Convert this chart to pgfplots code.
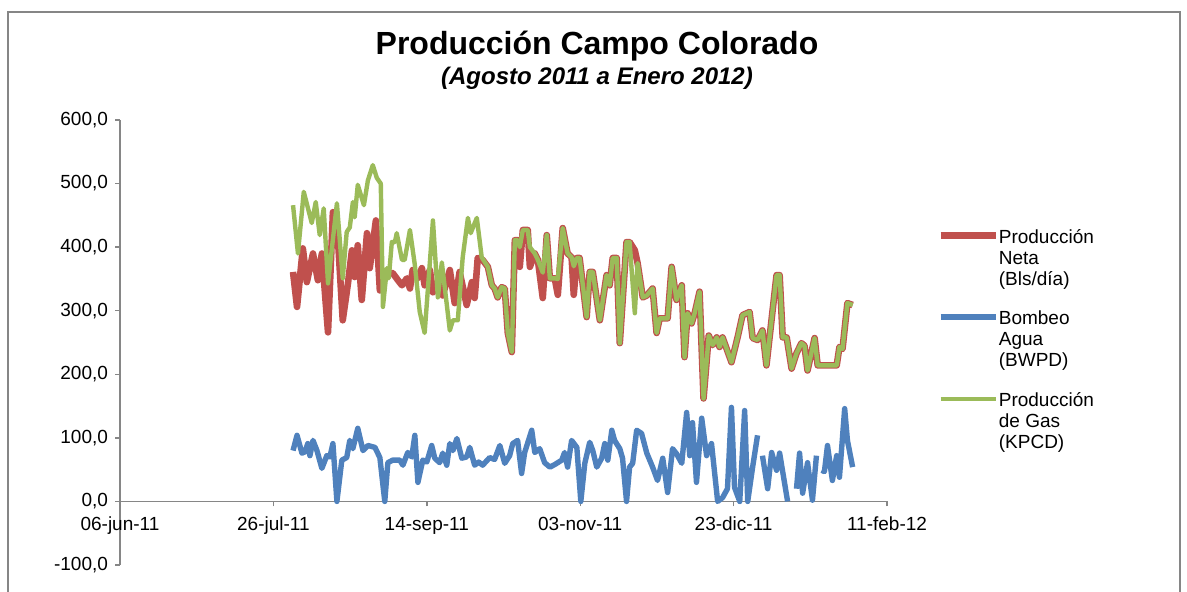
\documentclass[border=0pt]{standalone}
\usepackage{fontspec}
\setmainfont{Liberation Sans}
\usepackage{pgfplots}
\pgfplotsset{compat=1.18}

\definecolor{rojo}{HTML}{C0504D}
\definecolor{azul}{HTML}{4F81BD}
\definecolor{verde}{HTML}{9BBB59}
\definecolor{ejes}{HTML}{868686}

% x = dias desde 06-jun-11
\begin{document}
\begin{tikzpicture}[x=1pt,y=1pt]
\useasboundingbox (0,0) rectangle (593.5,295.5);
\draw[ejes, line width=0.6pt] (4,-5) -- (4,289.5) -- (590,289.5) -- (590,-5);
\node[font=\fontsize{16}{19}\selectfont\bfseries] at (298.5,272.5) {Producción Campo Colorado};
\node[font=\fontsize{12}{14}\selectfont\bfseries\itshape] at (298.5,256.5) {(Agosto 2011 a Enero 2012)};
\begin{axis}[
    at={(60pt,13pt)}, anchor=south west,
    width=383.5pt, height=222.5pt, scale only axis,
    xmin=0, xmax=250, ymin=-100, ymax=600,
    axis x line=middle, axis y line=left,
    hide obscured x ticks=false, hide obscured y ticks=false,
    axis line style={-, draw=ejes, line width=0.7pt},
    xtick={0,50,100,150,200,250},
    xticklabels={06-jun-11,26-jul-11,14-sep-11,03-nov-11,23-dic-11,11-feb-12},
    ytick={-100,0,100,200,300,400,500,600},
    yticklabels={{-100,0},{0,0},{100,0},{200,0},{300,0},{400,0},{500,0},{600,0}},
    tick align=outside, major tick length=2.5pt,
    tick style={draw=ejes, line width=0.7pt},
    ticklabel style={font=\fontsize{9.5}{10.5}\selectfont},
    xticklabel style={text height=7pt, text depth=2pt, yshift=-1.5pt},
    unbounded coords=jump,
    legend style={at={(1.065,0.757)}, anchor=north west, draw=none, fill=none,
        inner sep=0pt, row sep=32pt, column sep=0pt,
        font=\fontsize{9.5}{10.5}\selectfont, nodes={inner sep=0pt}},
    legend cell align=left,
    legend image code/.code={\draw[#1] (0pt,1pt) -- (27.5pt,1pt);},
]

% Produccion Neta (Bls/dia)
\addplot[rojo, line width=3.3pt, line join=round] coordinates {
(56.4,361)(57.7,306)(59.6,398)(60.9,345)(62.9,390)(64.5,348)(65.8,390)(67.8,266)
(69.4,455)(71.0,416)(72.6,285)(74.3,343)(75.6,395)(76.5,353)(77.5,403)(78.8,317)
(80.5,422)(81.4,367)(83.4,442)(84.7,332)(86.3,361)(88.9,359)(90.6,348)(91.9,340)
(93.5,351)(94.5,335)(95.4,364)(97.1,351)(98.4,367)(99.3,340)(101.0,364)(102.0,329)
(103.6,345)(105.2,324)(107.5,364)(109.1,312)(110.7,361)(113.0,309)(114.7,345)(115.6,320)
(116.6,383)(118.2,380)(119.9,369)(121.2,340)(122.1,335)(123.1,321)(124.4,337)(125.4,335)
(126.4,265)(127.7,235)(128.7,411)(129.6,411)(130.3,369)(131.3,427)(132.9,427)(133.6,369)
(135.2,390)(136.2,380)(137.8,320)(139.1,419)(140.1,351)(141.7,351)(142.7,325)(144.3,430)
(145.9,390)(147.2,384)(147.9,325)(148.9,383)(149.8,383)(152.1,290)(153.1,361)(154.1,361)
(156.4,285)(158.6,356)(159.6,340)(160.6,383)(161.9,383)(162.9,249)(165.1,408)(166.1,408)
(167.8,395)(168.7,375)(170.4,321)(171.7,324)(173.6,335)(174.9,265)(175.9,288)(178.5,288)
(179.8,369)(181.4,317)(183.1,340)(184.0,227)(185.0,296)(186.3,280)(187.3,296)(188.9,330)
(190.2,162)(191.9,261)(193.2,246)(194.5,258)(195.4,243)(196.4,258)(199.3,219)(201.3,258)
(202.9,293)(205.2,298)(206.2,257)(207.8,254)(209.4,269)(210.7,214)(214.0,356)(215.0,356)
(216.0,258)(217.3,258)(218.9,209)(220.5,233)(222.1,249)(223.1,245)(224.1,206)(226.4,257)
(227.4,214)(233.6,214)(234.5,243)(235.5,240)(237.1,312)(238.8,309)
};
\addlegendentry{\begin{tabular}[t]{@{}l@{}}Producción\\Neta\\(Bls/día)\end{tabular}}

% Bombeo Agua (BWPD)
\addplot[azul, line width=2.7pt, line join=round] coordinates {
(56.4,80)(57.7,104)(59.3,76)(60.3,78)(61.2,91)(61.9,72)(62.9,96)(64.2,80)(65.8,52)
(67.4,72)(68.4,70)(69.4,91)(70.7,0)(72.3,65)(73.9,69)(74.9,96)(75.9,83)(77.5,115)
(79.2,80)(80.8,88)(83.1,85)(84.7,69)(86.3,0)(87.3,61)(88.9,65)(91.2,65)(92.2,57)
(93.8,77)(95.1,70)(96.1,104)(97.1,30)(98.7,65)(100.0,62)(101.6,88)(102.6,68)(104.2,61)
(105.2,76)(106.5,57)(107.5,91)(108.5,80)(109.8,99)(111.4,68)(113.0,70)(114.0,85)
(115.6,57)(116.9,62)(118.2,57)(120.5,69)(122.1,66)(123.8,88)(125.4,60)(127.0,72)
(128.0,91)(129.6,96)(130.9,44)(131.9,77)(134.2,112)(135.2,77)(136.8,83)(138.4,61)
(140.1,54)(141.7,58)(144.0,65)(144.9,77)(145.9,54)(147.2,96)(148.9,85)(150.2,0)
(151.5,60)(153.1,93)(154.1,80)(155.4,54)(157.0,68)(158.0,91)(159.0,65)(160.3,112)
(161.2,96)(162.9,83)(163.8,68)(165.1,0)(166.1,54)(167.1,60)(168.4,112)(170.0,107)
(171.7,76)(173.6,54)(175.2,33)(176.9,68)(178.5,14)(180.1,83)(181.4,75)(183.1,60)
(184.7,140)(185.7,72)(186.6,124)(187.9,30)(189.6,131)(191.2,72)(192.8,91)(194.8,0)
(196.4,6)(198.0,20)(199.3,148)(200.3,22)(202.0,0)(203.6,143)(204.6,0)(206.2,54)
(207.8,104)(208.6,nan)(209.4,72)(211.1,20)(212.4,77)(214.0,49)(215.0,76)(217.6,0)
(219.0,nan)(220.5,20)(221.5,76)(222.5,13)(224.1,61)(225.7,2)(227.0,72)(227.8,nan)
(228.7,49)(229.6,47)(230.6,88)(232.2,33)(233.6,72)(234.5,38)(236.2,146)(237.1,96)
(238.8,54)
};
\addlegendentry{\begin{tabular}[t]{@{}l@{}}Bombeo\\Agua\\(BWPD)\end{tabular}}

% Produccion de Gas (KPCD)
\addplot[verde, line width=2.2pt, line join=round] coordinates {
(56.4,466)(58.0,390)(59.9,487)(62.5,438)(63.8,471)(65.1,419)(66.4,461)(67.8,343)
(70.7,469)(72.6,351)(73.9,424)(74.9,431)(75.9,471)(76.5,447)(77.5,498)(79.5,466)
(80.8,505)(82.4,529)(83.7,509)(85.0,500)(85.7,306)(87.0,367)(87.6,351)(88.6,408)
(89.6,408)(90.2,422)(91.9,380)(92.8,380)(94.5,427)(96.1,372)(97.7,298)(99.3,265)
(102.0,442)(103.6,321)(104.9,376)(107.5,269)(108.5,285)(110.1,285)(111.7,384)(113.4,446)
(114.3,422)(116.3,446)(117.9,384)(119.9,369)(121.2,340)(122.1,335)(123.1,321)(124.4,337)
(125.4,335)(126.4,265)(127.7,235)(128.7,411)(129.6,411)(130.3,400)(131.3,427)(132.9,427)
(133.6,400)(135.2,390)(136.2,380)(137.8,360)(139.1,419)(140.1,351)(141.7,351)(142.7,350)
(144.3,430)(145.9,390)(147.2,384)(147.9,370)(148.9,383)(149.8,383)(152.1,290)(153.1,361)
(154.1,361)(156.4,285)(158.6,356)(159.6,340)(160.6,383)(161.9,383)(162.9,249)(165.1,408)
(166.1,408)(167.8,296)(168.7,375)(170.4,321)(171.7,324)(173.6,335)(174.9,265)(175.9,288)
(178.5,288)(179.8,369)(181.4,317)(183.1,340)(184.0,227)(185.0,296)(186.3,280)(187.3,296)
(188.9,330)(190.2,162)(191.9,261)(193.2,246)(194.5,258)(195.4,243)(196.4,258)(199.3,219)
(201.3,258)(202.9,293)(205.2,298)(206.2,257)(207.8,254)(209.4,269)(210.7,214)(214.0,356)
(215.0,356)(216.0,258)(217.3,258)(218.9,209)(220.5,233)(222.1,249)(223.1,245)(224.1,206)
(226.4,257)(227.4,214)(233.6,214)(234.5,243)(235.5,240)(237.1,312)(238.8,309)
};
\addlegendentry{\begin{tabular}[t]{@{}l@{}}Producción\\de Gas\\(KPCD)\end{tabular}}

\end{axis}
\end{tikzpicture}
\end{document}
